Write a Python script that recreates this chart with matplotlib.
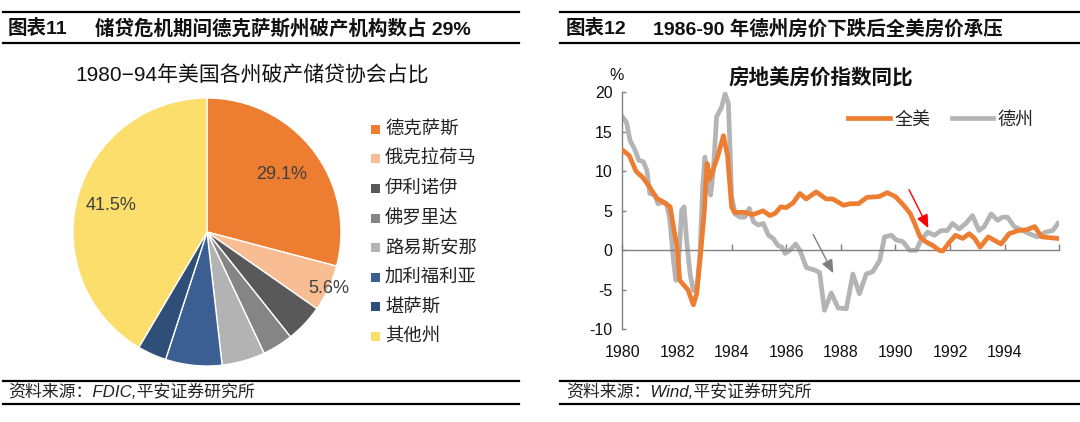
import matplotlib
matplotlib.use("Agg")
import matplotlib.pyplot as plt
from matplotlib.lines import Line2D
from matplotlib.patches import Rectangle
import numpy as np

plt.rcParams['font.family'] = ['Liberation Sans', 'Noto Sans CJK SC', 'DejaVu Sans']
plt.rcParams['axes.unicode_minus'] = False

# ---------------- data ----------------
pie_labels = ['德克萨斯', '俄克拉荷马', '伊利诺伊', '佛罗里达', '路易斯安那', '加利福利亚', '堪萨斯', '其他州']
pie_values = [29.1, 5.6, 4.6, 3.7, 5.2, 6.8, 3.5, 41.5]
pie_colors = ['#ED7D31', '#F8BD93', '#595959', '#858585', '#B3B3B3', '#3B5F93', '#2F4F78', '#FCDE6C']
pie_shown = ['29.1%', '5.6%', '', '', '', '', '', '41.5%']

us_t = [1980.0, 1980.25, 1980.5, 1980.75, 1981.0, 1981.25, 1981.5, 1981.75, 1981.87, 1982.0,
        1982.1, 1982.25, 1982.4, 1982.6, 1982.72, 1982.85, 1983.0, 1983.1, 1983.2, 1983.35,
        1983.5, 1983.7, 1983.85, 1984.0, 1984.1, 1984.3, 1984.5, 1984.75, 1985.0, 1985.15,
        1985.4, 1985.6, 1985.8, 1986.0, 1986.25, 1986.5, 1986.73, 1987.1, 1987.46, 1987.7,
        1988.1, 1988.34, 1988.65, 1988.95, 1989.4, 1989.7, 1990.0, 1990.3, 1990.55, 1990.7,
        1990.9, 1991.1, 1991.37, 1991.6, 1991.73, 1991.97, 1992.2, 1992.46, 1992.7, 1992.9,
        1993.1, 1993.4, 1993.6, 1993.87, 1994.16, 1994.5, 1994.8, 1995.1, 1995.35, 1995.65,
        1995.95]
us_v = [12.7, 12.0, 10.0, 9.2, 8.0, 6.6, 6.1, 5.5, 3.0, 0.5,
        -3.8, -4.4, -5.0, -6.9, -5.5, -1.0, 5.0, 11.0, 9.0, 10.5,
        12.0, 14.5, 12.0, 5.5, 4.8, 4.8, 4.8, 4.5, 4.8, 5.0,
        4.4, 4.7, 5.5, 5.4, 6.0, 7.2, 6.5, 7.4, 6.5, 6.5,
        5.7, 5.9, 5.9, 6.7, 6.8, 7.3, 6.8, 5.7, 4.6, 3.4,
        1.7, 1.1, 0.6, 0.0, -0.1, 1.0, 1.9, 1.5, 2.1, 1.5,
        0.4, 1.7, 1.3, 0.8, 2.1, 2.5, 2.6, 3.0, 1.7, 1.6,
        1.5]

tx_t = [1980.0, 1980.15, 1980.28, 1980.46, 1980.6, 1980.77, 1980.9, 1981.0, 1981.2, 1981.3,
        1981.5, 1981.62, 1981.74, 1981.87, 1981.96, 1982.05, 1982.17, 1982.26, 1982.35, 1982.48,
        1982.6, 1982.72, 1982.84, 1982.94, 1983.02, 1983.15, 1983.23, 1983.33, 1983.45, 1983.63,
        1983.76, 1983.88, 1983.94, 1984.0, 1984.13, 1984.3, 1984.48, 1984.65, 1984.8, 1984.98,
        1985.16, 1985.35, 1985.52, 1985.7, 1985.84, 1985.96, 1986.13, 1986.35, 1986.5, 1986.74,
        1987.04, 1987.22, 1987.4, 1987.65, 1987.9, 1988.2, 1988.44, 1988.68, 1988.93, 1989.17,
        1989.42, 1989.6, 1989.85, 1990.03, 1990.27, 1990.52, 1990.76, 1990.94, 1991.18, 1991.43,
        1991.67, 1991.9, 1992.09, 1992.33, 1992.58, 1992.82, 1993.06, 1993.25, 1993.5, 1993.74,
        1993.92, 1994.1, 1994.35, 1994.66, 1994.9, 1995.2, 1995.5, 1995.76, 1995.95]
tx_v = [16.9, 16.2, 13.9, 12.7, 11.4, 11.2, 10.1, 7.2, 7.0, 5.9,
        6.1, 5.9, 3.8, -1.3, -3.8, -2.1, 5.1, 5.5, 1.3, -3.0,
        -5.1, -5.1, -0.4, 8.0, 11.8, 8.0, 7.0, 10.1, 16.9, 18.1,
        19.8, 18.6, 13.1, 6.8, 4.6, 4.2, 4.2, 5.3, 3.6, 3.2,
        3.4, 1.9, 1.5, 0.6, 0.4, -0.4, 0.0, 0.8, 0.0, -2.2,
        -2.5, -2.8, -7.6, -5.4, -7.3, -7.4, -3.0, -5.5, -3.0, -2.7,
        -1.3, 1.7, 1.9, 1.3, 1.1, 0.0, 0.0, 1.3, 2.3, 1.9,
        2.5, 2.5, 3.4, 2.7, 3.4, 4.4, 2.5, 3.0, 4.6, 3.8,
        4.2, 4.2, 3.0, 2.5, 2.1, 1.7, 2.3, 2.5, 3.4]

x_ticks = [1980, 1982, 1984, 1986, 1988, 1990, 1992, 1994, 1996]
x_ticklabels = ['1980', '1982', '1984', '1986', '1988', '1990', '1992', '1994', '']
y_ticks = [-10, -5, 0, 5, 10, 15, 20]

# ---------------- figure ----------------
W, H = 1080, 422
fig = plt.figure(figsize=(W / 100, H / 100), dpi=100)
fig.patch.set_facecolor('white')


def fx(px):
    return px / W


def fy(py):
    return 1 - py / H


def hline(x0, x1, y, lw=1.6):
    fig.add_artist(Line2D([fx(x0), fx(x1)], [fy(y), fy(y)], color='black', lw=lw,
                          transform=fig.transFigure))


# header / footer rules
for (a, b) in [(3, 519), (560, 1080)]:
    hline(a, b, 12)
    hline(a, b, 42.5)
    hline(a, b, 381)
    hline(a, b, 404)

fig.text(fx(8), fy(29), '图表11', fontsize=14, fontweight='bold', va='center', ha='left', color='#111111')
fig.text(fx(95), fy(29), '储贷危机期间德克萨斯州破产机构数占 29%', fontsize=14, fontweight='bold',
         va='center', ha='left', color='#111111')
fig.text(fx(566), fy(29), '图表12', fontsize=14, fontweight='bold', va='center', ha='left', color='#111111')
fig.text(fx(653), fy(29), '1986-90 年德州房价下跌后全美房价承压', fontsize=14, fontweight='bold',
         va='center', ha='left', color='#111111')

fig.text(fx(8), fy(392), '资料来源：FDIC,平安证券研究所', fontsize=12.2, style='italic',
         va='center', ha='left', color='#222222')
fig.text(fx(566), fy(392), '资料来源：Wind,平安证券研究所', fontsize=12.2, style='italic',
         va='center', ha='left', color='#222222')

# ---------------- pie ----------------
cx, cy, r = 207, 232, 134
axp = fig.add_axes([fx(cx - r), fy(cy + r), 2 * r / W, 2 * r / H])
wedges, _ = axp.pie(pie_values, colors=pie_colors, startangle=90, counterclock=False,
                    radius=1.0, wedgeprops=dict(edgecolor='white', linewidth=1.0))
axp.set_xlim(-1, 1)
axp.set_ylim(-1, 1)
axp.set_aspect('equal')
axp.axis('off')
label_r = [0.70, 1.0, 0, 0, 0, 0, 0, 0.74]
for w, txt, lr in zip(wedges, pie_shown, label_r):
    if not txt:
        continue
    ang = np.deg2rad((w.theta1 + w.theta2) / 2)
    axp.text(lr * np.cos(ang), lr * np.sin(ang), txt, ha='center', va='center',
             fontsize=13, color='#404040')

fig.text(fx(252), fy(76), '1980−94年美国各州破产储贷协会占比', fontsize=15, ha='center', va='center',
         color='#111111')

# pie legend
leg_y0, leg_dy = 129.3, 29.6
for i, (lab, col) in enumerate(zip(pie_labels, pie_colors)):
    yy = leg_y0 + i * leg_dy
    fig.add_artist(Rectangle((fx(371), fy(yy + 4.5)), 9 / W, 9 / H, facecolor=col, edgecolor='none',
                             transform=fig.transFigure))
    fig.text(fx(385), fy(yy), lab, fontsize=13.2, ha='left', va='center', color='#222222')

# ---------------- line chart ----------------
x0p, x1p = 622.4, 1059.3
y_top, y_bot = 92.3, 329.3
ax = fig.add_axes([fx(x0p), fy(y_bot), (x1p - x0p) / W, (y_bot - y_top) / H])
ax.plot(us_t, us_v, color='#ED7D31', lw=3.4, solid_joinstyle='round', label='全美', zorder=3)
ax.plot(tx_t, tx_v, color='#B4B4B4', lw=3.4, solid_joinstyle='round', label='德州', zorder=2)
ax.set_xlim(1980, 1996)
ax.set_ylim(-10, 20)
ax.set_facecolor('none')
for s in ['top', 'right']:
    ax.spines[s].set_visible(False)
ax.spines['left'].set_color('#808080')
ax.spines['left'].set_linewidth(1.0)
ax.spines['bottom'].set_position(('data', 0))
ax.spines['bottom'].set_color('#808080')
ax.spines['bottom'].set_linewidth(1.0)
ax.set_xticks(x_ticks)
ax.set_xticklabels(x_ticklabels)
ax.set_yticks(y_ticks)
ax.tick_params(axis='x', direction='in', length=4, width=1, color='#808080', pad=68,
               labelsize=11.5, labelcolor='#111111')
ax.tick_params(axis='y', direction='in', length=3, width=1, color='#808080', pad=7,
               labelsize=11.5, labelcolor='#111111')

fig.text(fx(617), fy(75), '%', fontsize=11.5, ha='center', va='center', color='#111111')
fig.text(fx(821), fy(78), '房地美房价指数同比', fontsize=14.8, fontweight='bold', ha='center', va='center',
         color='#111111')

# arrows
ax.annotate('', xy=(1987.77, -3.2), xytext=(1986.94, 2.3),
            arrowprops=dict(arrowstyle='-|>,head_length=0.8,head_width=0.35', color='#7F7F7F', lw=1.0))
ax.annotate('', xy=(1991.25, 2.5), xytext=(1990.45, 8.0),
            arrowprops=dict(arrowstyle='-|>,head_length=0.8,head_width=0.35', color='#FF0000', lw=1.0))

leg = ax.legend(loc='center left', bbox_to_anchor=(fx(848), fy(120)), bbox_transform=fig.transFigure,
                ncol=2, frameon=False, fontsize=13, handlelength=2.3, handletextpad=0.25,
                columnspacing=1.2, borderpad=0, borderaxespad=0)
for t in leg.get_texts():
    t.set_color('#222222')

fig.savefig('out.png', dpi=100, facecolor='white')
